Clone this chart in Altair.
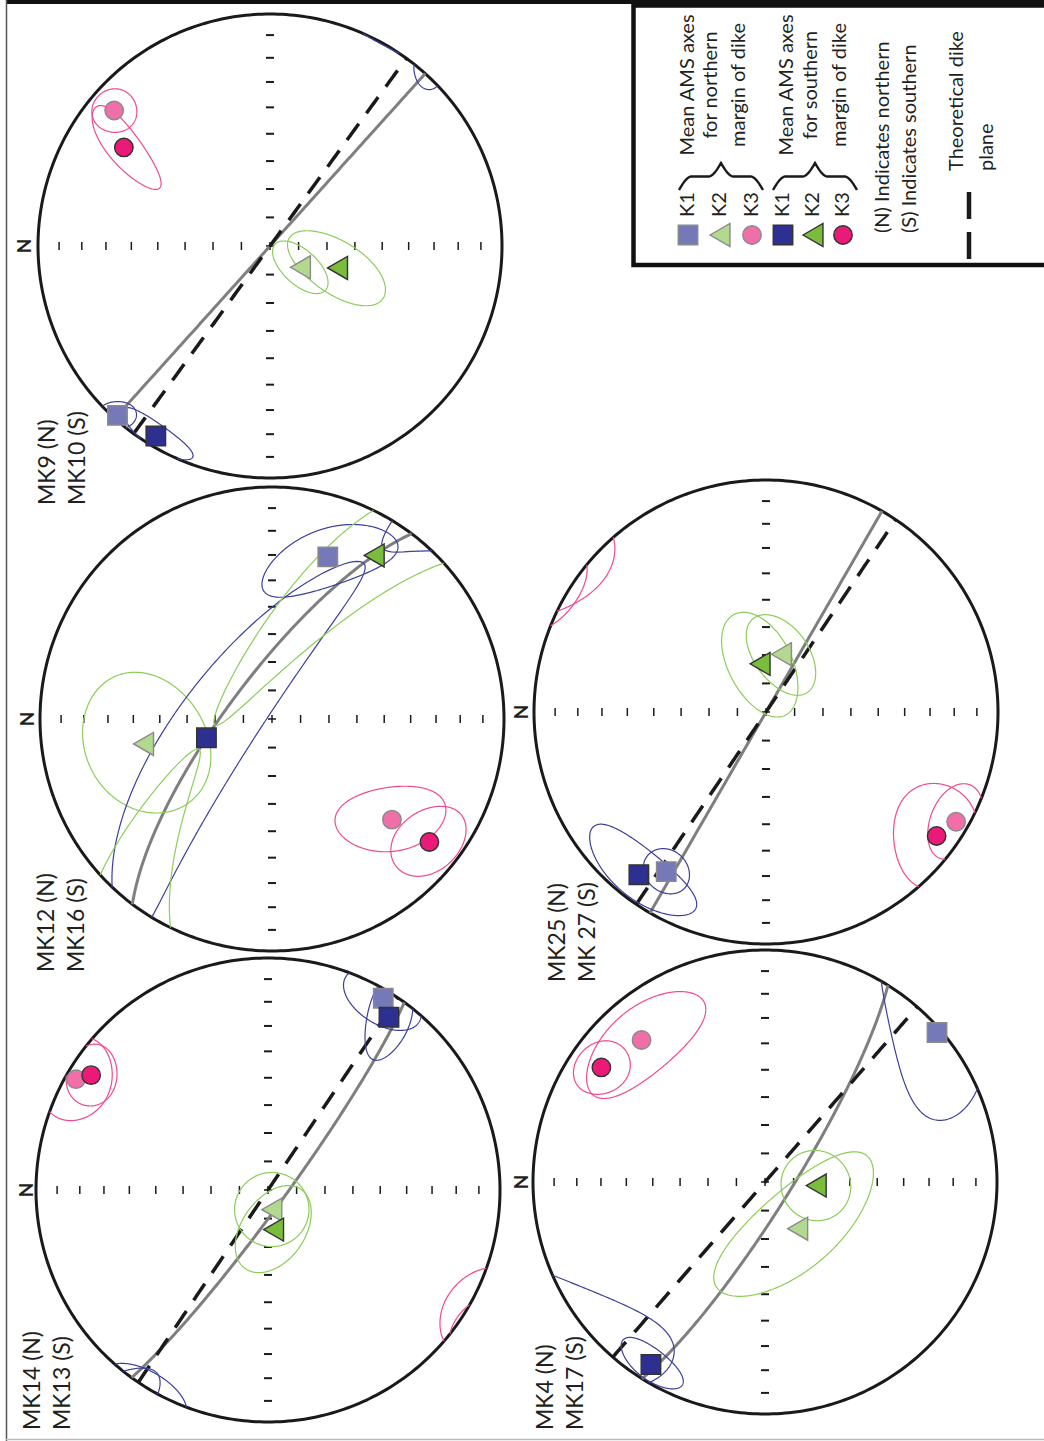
import numpy as np
import pandas as pd
import altair as alt

# ---------------------------------------------------------------------------
# AMS data for five dike sites (northern / southern margin)
# ---------------------------------------------------------------------------
NORTH_LABEL = ["MK9 (N)", "MK12 (N)", "MK14 (N)", "MK25 (N)", "MK4 (N)"]
SOUTH_LABEL = ["MK10 (S)", "MK16 (S)", "MK13 (S)", "MK 27 (S)", "MK17 (S)"]

# mean principal susceptibility axes as (trend, plunge) in degrees
K1_N = [(312, 2), (109, 27), (121, 4), (302, 20), (139, 2)]
K2_N = [(215, 77), (349, 43), (259, 83), (105, 69), (235, 70)]
K3_N = [(41, 12), (220, 33), (30, 5), (210, 6), (49, 20)]
K1_S = [(301, 5), (344, 66), (125, 10), (308, 12), (302, 8)]
K2_S = [(198, 65), (122, 18), (262, 76), (83, 73), (184, 72)]
K3_S = [(34, 25), (218, 15), (33, 10), (216, 10), (35, 15)]

# confidence regions: (semi-angle toward first partner axis, semi-angle toward
# second partner axis, twist of the region about its axis), all in degrees.
# partners: K1 -> (K2, K3), K2 -> (K1, K3), K3 -> (K1, K2)
CONF_N = [
    [(8, 4, 0), (6, 12, 0), (6, 10, 0)],
    [(25, 10, 0), (22, 25, 0), (11, 20, 0)],
    [(12, 11, 0), (13, 13, 0), (11, 16, 0)],
    [(9, 7, 0), (9.5, 16, 25), (10, 12, 0)],
    [(30, 16, -14), (35, 14, 0), (21, 14, 0)],
]
CONF_S = [
    [(5.5, 11, -15), (9, 20, 0), (5, 21, 18)],
    [(85, 14, 0), (85, 11, 0), (14, 11, 0)],
    [(19, 6, 0), (17, 11, 0), (8, 12, 0)],
    [(11, 18, 14), (11, 20, 27), (13, 21, 0)],
    [(7, 10, 0), (12, 12.5, 0), (8, 11.5, 0)],
]

# planes as (dip direction, dip)
MEASURED_PLANE = [(42, 90), (37, 75), (216, 84), (30, 90), (212, 81)]
THEORETICAL_PLANE = [(36, 90), None, (34, 90), (34, 90), (41, 90)]

GRID_DEG = [10, 20, 30, 40, 50, 60, 70, 80]

LEGEND_KEYS = ["K1", "K2", "K3", "K1", "K2", "K3"]
LEGEND_GROUP_TEXT = [
    ["Mean AMS axes", "for northern", "margin of dike"],
    ["Mean AMS axes", "for southern", "margin of dike"],
]
LEGEND_NOTES = ["(N) Indicates northern", "(S) Indicates southern"]
LEGEND_PLANE_TEXT = ["Theoretical dike", "plane"]

# ---------------------------------------------------------------------------
# page layout
# ---------------------------------------------------------------------------
W, H = 1044, 1441
R = 232.0
CENTRES = [(270, 246), (272, 719), (268, 1190), (766, 712), (765, 1182)]
NORTH_TAG_POS = [(25, 246), (28, 719), (27, 1190), (522, 712), (522, 1182)]
LABEL_POS = [(48, 505), (47, 972), (33, 1430), (558, 982), (546, 1430)]
LINE_GAP = 30

FONT = "Lato"
INK = "#231f20"
AXIS_LINE = ["#3c409c", "#8ccd5a", "#ef4a90"]

STYLE = {
    ("K1", "N"): dict(shape="square", fill="#7679b8", stroke="#8a8a8a", size=380),
    ("K2", "N"): dict(shape="triangle-left", fill="#b2d98f", stroke="#8a8a8a", size=529),
    ("K3", "N"): dict(shape="circle", fill="#f06fa9", stroke="#8a8a8a", size=340),
    ("K1", "S"): dict(shape="square", fill="#2d3091", stroke="#333333", size=380),
    ("K2", "S"): dict(shape="triangle-left", fill="#7abd3d", stroke="#333333", size=529),
    ("K3", "S"): dict(shape="circle", fill="#eb1a78", stroke="#333333", size=340),
}
LEGEND_X = [688, 720, 752, 783, 813, 843]
LEGEND_Y = 235


# ---------------------------------------------------------------------------
# lower-hemisphere equal-area projection helpers
# ---------------------------------------------------------------------------
def unit(trend, plunge):
    t, p = np.radians(trend), np.radians(plunge)
    return np.array([np.cos(p) * np.cos(t), np.cos(p) * np.sin(t), np.sin(p)])


def project(v):
    """(north, east, down) -> net coords; north plots to the left, east up."""
    v = np.atleast_2d(v)
    s = 1.0 / np.sqrt(np.clip(1.0 + v[:, 2], 1e-9, None))
    return -v[:, 0] * s, v[:, 1] * s


def screen(net, px, py):
    cx, cy = CENTRES[net]
    return cx + R * np.asarray(px), cy - R * np.asarray(py)


def crossing(va, vb):
    t = va[2] / (va[2] - vb[2])
    c = va + t * (vb - va)
    c[2] = 0.0
    return c / np.linalg.norm(c)


def loop_segments(V):
    """Split a closed loop on the sphere into projected pieces; upper-hemisphere
    parts are plotted at their antipodes."""
    up = V[:, 2] < 0
    n = len(V)
    if up.all() or (~up).all():
        Wv = -V if up[0] else V
        return [project(np.vstack([Wv, Wv[:1]]))]
    i0 = next(i for i in range(n) if up[i] != up[i - 1])
    idx = [(i0 + k) % n for k in range(n)]
    segs, cur = [], []
    for k, i in enumerate(idx):
        prev = idx[k - 1] if k > 0 else (i0 - 1) % n
        if k == 0 or up[i] != up[prev]:
            c = crossing(V[prev], V[i])
            if cur:
                cur.append(-c if up[prev] else c)
                segs.append(cur)
            cur = [-c if up[i] else c]
        cur.append(-V[i] if up[i] else V[i])
    c = crossing(V[idx[-1]], V[i0])
    cur.append(-c if up[idx[-1]] else c)
    segs.append(cur)
    return [project(np.array(s)) for s in segs]


def cone(k, j, a, b, twist, n=400):
    k = k / np.linalg.norm(k)
    u = j - np.dot(j, k) * k
    u /= np.linalg.norm(u)
    w = np.cross(k, u)
    g = np.radians(twist)
    u, w = np.cos(g) * u + np.sin(g) * w, -np.sin(g) * u + np.cos(g) * w
    phi = np.linspace(0, 2 * np.pi, n, endpoint=False)
    a, b = np.radians(a), np.radians(b)
    rho = a * b / np.sqrt((b * np.cos(phi)) ** 2 + (a * np.sin(phi)) ** 2)
    return (np.cos(rho)[:, None] * k
            + np.sin(rho)[:, None] * (np.cos(phi)[:, None] * u + np.sin(phi)[:, None] * w))


def great_circle(dipdir, dip, n=181):
    s = unit(dipdir - 90, 0)
    d = unit(dipdir, dip)
    t = np.linspace(0, np.pi, n)
    return project(np.cos(t)[:, None] * s + np.sin(t)[:, None] * d)


# ---------------------------------------------------------------------------
# build tables
# ---------------------------------------------------------------------------
prim_rows, plane_rows, theo_rows, ell_rows, tick_rows = [], [], [], [], []
marker_rows = {key: [] for key in STYLE}

ang = np.linspace(0, 2 * np.pi, 361)
for n in range(5):
    sx, sy = screen(n, np.cos(ang), np.sin(ang))
    prim_rows += [dict(key=n, i=q, x=sx[q], y=sy[q]) for q in range(len(sx))]

    px, py = great_circle(*MEASURED_PLANE[n])
    sx, sy = screen(n, px, py)
    plane_rows += [dict(key=n, i=q, x=sx[q], y=sy[q]) for q in range(len(sx))]
    if THEORETICAL_PLANE[n] is not None:
        px, py = great_circle(*THEORETICAL_PLANE[n])
        sx, sy = screen(n, px, py)
        theo_rows += [dict(key=n, i=q, x=sx[q], y=sy[q]) for q in range(len(sx))]

    for margin, axes, conf in (("N", (K1_N, K2_N, K3_N), CONF_N),
                               ("S", (K1_S, K2_S, K3_S), CONF_S)):
        vs = [unit(*ax[n]) for ax in axes]
        for i in range(3):
            j = [1, 0, 0][i]
            a, b, tw = conf[n][i]
            for si, (ex_, ey_) in enumerate(loop_segments(cone(vs[i], vs[j], a, b, tw))):
                sx, sy = screen(n, ex_, ey_)
                key = f"{n}{margin}{i}{si}"
                ell_rows += [dict(key=key, i=q, x=sx[q], y=sy[q], col=AXIS_LINE[i])
                             for q in range(len(sx))]
            mx, my = screen(n, *project(vs[i]))
            marker_rows[(f"K{i + 1}", margin)].append(dict(x=float(mx[0]), y=float(my[0])))

    # grid ticks on the two diameters
    cx, cy = CENTRES[n]
    for d in GRID_DEG:
        off = R * np.sqrt(2) * np.sin(np.radians(d / 2))
        for sgn in (-1, 1):
            tick_rows.append(dict(x=cx + sgn * off, x2=cx + sgn * off, y=cy - 4, y2=cy + 4, w="v"))
            tick_rows.append(dict(x=cx - 4, x2=cx + 4, y=cy + sgn * off, y2=cy + sgn * off, w="h"))
    tick_rows.append(dict(x=cx, x2=cx, y=cy - 4, y2=cy + 4, w="v"))
    tick_rows.append(dict(x=cx - 4, x2=cx + 4, y=cy, y2=cy, w="v"))

for (k, m), lx in zip(STYLE.keys(), LEGEND_X):
    marker_rows[(k, m)].append(dict(x=lx, y=LEGEND_Y))

# legend braces
brace_rows = []
for g, (x0, x1) in enumerate([(679, 763), (773, 857)]):
    s = np.linspace(0, 1, 60)
    f = 0.5 * np.sin(np.pi / 2 * np.clip(s / 0.3, 0, 1)) \
        + 0.5 * (1 - np.cos(np.pi / 2 * np.clip((s - 0.7) / 0.3, 0, 1)))
    half = (x1 - x0) / 2
    xb = np.concatenate([x0 + s * half, x1 - s[::-1] * half])
    yb = 190 - 27 * np.concatenate([f, f[::-1]])
    brace_rows += [dict(key=g, i=q, x=xb[q], y=yb[q]) for q in range(len(xb))]

# ---------------------------------------------------------------------------
# chart
# ---------------------------------------------------------------------------
xs = alt.Scale(domain=[0, W], nice=False, zero=False)
ys = alt.Scale(domain=[0, H], nice=False, zero=False, reverse=True)


def ex(f="x"):
    return alt.X(f"{f}:Q", scale=xs, axis=None)


def ey(f="y"):
    return alt.Y(f"{f}:Q", scale=ys, axis=None)


def line_layer(rows, **mark):
    return alt.Chart(pd.DataFrame(rows)).mark_line(**mark).encode(
        x=ex(), y=ey(), detail="key:N", order="i:Q")


frame = alt.Chart(pd.DataFrame([
    dict(x=6, x2=W, y=2, y2=2, c="#111111", w=4),
    dict(x=6.5, x2=6.5, y=0, y2=H, c="#555555", w=1.5),
    dict(x=6, x2=W, y=1439.5, y2=1439.5, c="#bbbbbb", w=1.5),
])).mark_rule().encode(
    x=ex(), x2="x2:Q", y=ey(), y2="y2:Q",
    color=alt.Color("c:N", scale=None), strokeWidth=alt.StrokeWidth("w:Q", scale=None))

legend_box = alt.Chart(pd.DataFrame([dict(x=633.5, x2=1060, y=5.5, y2=265)])).mark_rect(
    fillOpacity=0, stroke="#111111", strokeWidth=4.5).encode(
    x=ex(), x2="x2:Q", y=ey(), y2="y2:Q")

primitive = line_layer(prim_rows, color="#1a1a1a", strokeWidth=3)

ticks = alt.Chart(pd.DataFrame(tick_rows)).mark_rule(color="#1a1a1a").encode(
    x=ex(), x2="x2:Q", y=ey(), y2="y2:Q",
    strokeWidth=alt.StrokeWidth("w:N", scale=alt.Scale(domain=["v", "h"], range=[1.5, 2.0]),
                                legend=None))

measured = line_layer(plane_rows, color="#7f7f7f", strokeWidth=3)
theoretical = line_layer(theo_rows, color="#1a1a1a", strokeWidth=3.5, strokeDash=[20, 13])

ellipses = alt.Chart(pd.DataFrame(ell_rows)).mark_line(strokeWidth=1.2).encode(
    x=ex(), y=ey(), detail="key:N", order="i:Q", color=alt.Color("col:N", scale=None))

marker_layers = []
for key, st in STYLE.items():
    marker_layers.append(
        alt.Chart(pd.DataFrame(marker_rows[key])).mark_point(
            shape=st["shape"], filled=True, fill=st["fill"], stroke=st["stroke"],
            strokeWidth=1.4, size=st["size"], opacity=1).encode(x=ex(), y=ey()))

braces = line_layer(brace_rows, color="#1a1a1a", strokeWidth=2.4)
legend_dash = alt.Chart(pd.DataFrame([dict(x=969, x2=969, y=192, y2=219),
                                      dict(x=969, x2=969, y=232, y2=259)])).mark_rule(
    color="#1a1a1a", strokeWidth=4.5).encode(x=ex(), x2="x2:Q", y=ey(), y2="y2:Q")


def text_layer(rows, align, size=20, weight="normal"):
    return alt.Chart(pd.DataFrame(rows)).mark_text(
        angle=270, align=align, baseline="middle", font=FONT, fontSize=size,
        fontWeight=weight, color=INK).encode(x=ex(), y=ey(), text="t:N")


site_rows = []
for n in range(5):
    lx, ly = LABEL_POS[n]
    site_rows.append(dict(x=lx, y=ly, t=NORTH_LABEL[n]))
    site_rows.append(dict(x=lx + LINE_GAP, y=ly, t=SOUTH_LABEL[n]))
site_text = text_layer(site_rows, "left", size=23)

north_text = text_layer([dict(x=x, y=y, t="N") for x, y in NORTH_TAG_POS], "center",
                        size=19, weight="bold")

key_text = text_layer([dict(x=x, y=217, t=k) for x, k in zip(LEGEND_X, LEGEND_KEYS)], "left")
group_rows = []
for xs_g, lines in zip([(688, 711, 739), (787, 811, 840)], LEGEND_GROUP_TEXT):
    group_rows += [dict(x=x, y=85, t=t) for x, t in zip(xs_g, lines)]
group_text = text_layer(group_rows, "center")
note_text = text_layer([dict(x=x, y=233, t=t) for x, t in zip((883, 910), LEGEND_NOTES)], "left")
plane_text = text_layer([dict(x=x, y=171, t=t) for x, t in zip((957, 987), LEGEND_PLANE_TEXT)],
                        "left")

chart = alt.layer(
    frame, legend_box, primitive, ticks, measured, theoretical, ellipses,
    *marker_layers, braces, legend_dash,
    site_text, north_text, key_text, group_text, note_text, plane_text,
).properties(
    width=W, height=H, padding=0, autosize=alt.AutoSizeParams(type="none"),
).configure_view(stroke=None)

chart.save("out.html", embed_options={"renderer": "svg", "actions": False})
